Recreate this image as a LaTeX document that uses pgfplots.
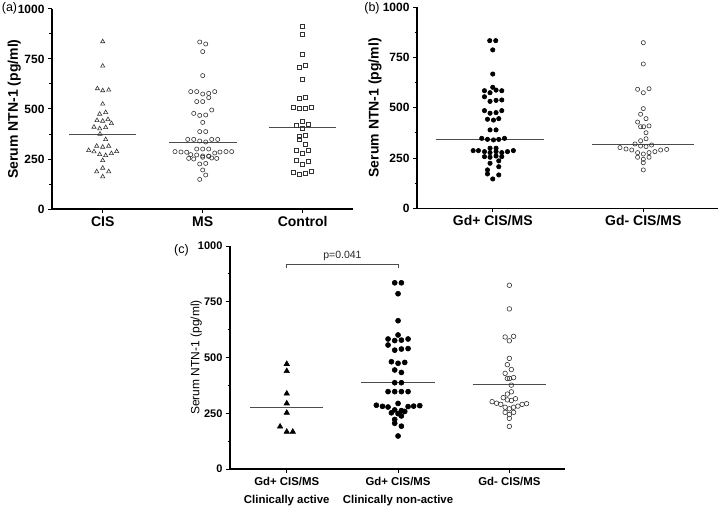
\documentclass[border=0pt]{standalone}
\usepackage{fontspec}
\setmainfont{Liberation Sans}
\usepackage{pgfplots}
\usepackage{pgfplotstable}
\pgfplotsset{compat=1.18}

\pgfplotstableread{
dx v
0 837
0 715
-0.053 602
0 592
0.06 595
0 525
-0.03 475
0.03 483
-0.057 443
0 440
0.053 448
0.087 428
-0.087 410
-0.03 402
0.03 408
-0.027 375
0.03 348
-0.06 315
0 310
0.06 315
-0.14 293
-0.087 287
-0.03 273
0.03 268
0.087 278
0.14 288
0 243
-0.06 187
0 205
0.06 187
0 162
}\tabCIS

\pgfplotstableread{
dx v
-0.03 835
0.03 825
0 787
0 667
-0.12 587
-0.06 587
0 575
0.06 578
0.12 587
0.06 557
-0.06 537
0 537
0.09 495
-0.09 478
-0.03 468
0.03 470
0 433
-0.03 387
0.03 387
-0.15 348
-0.09 348
-0.03 340
0.03 335
0.09 348
0.15 348
-0.06 300
0 300
0.06 300
-0.277 287
-0.217 285
-0.16 284
-0.12 272
0.12 280
0.173 285
0.233 287
0.29 287
-0.06 270
0 265
0.06 265
-0.14 253
-0.09 250
0 259
0.06 263
0.09 255
0.14 253
-0.03 225
0.03 228
0 195
0.03 170
-0.03 148
}\tabMS

\pgfplotstableread{
dx v
0 912
0 873
0 775
-0.03 708
0.03 717
0 650
-0.03 552
0.03 557
-0.09 510
-0.03 502
0.03 502
0.087 507
0 440
0.06 423
-0.06 417
0 403
-0.03 362
-0.03 350
0.03 370
0.03 325
-0.06 295
0 278
0.06 293
-0.06 242
0 225
0.06 238
-0.09 183
-0.03 175
0.03 178
0.087 188
}\tabCtrl

\pgfplotstableread{
dx v
-0.02 834
0.02 834
0 788
0 668
0 602
-0.055 585
-0.018 575
0.022 588
0.06 585
-0.055 555
-0.018 532
0.022 537
0.06 539
-0.055 486
-0.018 473
0.022 476
0.06 486
-0.035 443
0.005 439
0.04 446
-0.018 390
0.022 390
-0.073 348
-0.035 343
0.005 340
0.04 343
0.078 348
-0.018 299
0.022 299
-0.13 287
-0.095 287
-0.055 282
-0.018 277
0.022 282
0.06 277
0.098 282
0.137 287
-0.055 257
-0.018 254
0.022 260
0.06 257
-0.018 224
0.04 236
-0.035 191
0.04 207
-0.035 171
0.04 166
0 146
}\tabGdPos

\pgfplotstableread{
dx v
0 824
0 718
-0.038 592
0 575
0.038 595
0 496
-0.018 468
0.018 446
-0.038 429
-0.018 406
0.002 406
0.038 410
0.018 376
0.018 346
-0.018 336
-0.055 320
-0.018 310
0.018 307
0.055 315
-0.155 302
-0.115 295
-0.077 290
-0.038 277
0 270
0.038 277
0.077 282
0.115 290
0.155 293
-0.038 254
0 244
0.038 254
0 227
0 191
}\tabGdNeg

\pgfplotstableread{
dx v
0 471
0 439
0 338
0 294
0 252
-0.06 190
0 167
0.054 167
}\tabActv

\pgfplotstableread{
dx v
-0.03 835
0.03 835
0 786
0 665
0 601
-0.09 583
-0.03 576
0.03 578
0.09 583
-0.09 556
-0.03 533
0.03 538
0.09 540
-0.06 481
0 474
0.06 478
-0.03 444
0.03 433
-0.03 387
0.03 387
-0.09 347
-0.03 347
0.03 347
0.09 347
0 294
-0.195 286
-0.14 281
-0.09 278
0.09 280
0.14 282
0.195 284
-0.03 265
0.03 262
-0.06 252
0 248
0.06 258
0.03 238
-0.03 222
-0.03 205
0.03 192
0 148
}\tabNonActv

\pgfplotsset{
  prism/.style={
    scale only axis,
    axis x line=bottom, axis y line=left,
    axis line style={-, line width=1.3pt},
    ymin=0, ymax=1000,
    ytick={0,250,500,750,1000},
    yticklabels={0,250,500,750,1000},
    minor ytick={125,375,625,875},
    tick align=outside,
    major tick length=4pt, minor tick length=2.5pt,
    every tick/.style={black, line width=1pt},
    /pgf/number format/assume math mode=true,
    /pgf/number format/1000 sep={},
    clip=false,
    ylabel={Serum NTN-1 (pg/ml)},
  },
  big/.style={
    yticklabel style={font=\fontsize{12}{12}\selectfont\bfseries},
    xticklabel style={font=\fontsize{14}{14}\selectfont\bfseries, yshift=0pt},
    ylabel style={font=\fontsize{14}{14}\selectfont\bfseries, anchor=center},
  },
  pts/.style={only marks, draw=black!80, line width=0.6pt},
  med/.style={no marks, line width=0.8pt, black!70},
}

\begin{document}
\begin{tikzpicture}
\path[use as bounding box] (0,0) rectangle (722pt,507pt);

% panel (a)
\begin{axis}[prism, big,
  at={(52pt,298pt)}, anchor=south west,
  width=301.3pt, height=200pt,
  xmin=0.493, xmax=3.506,
  xtick={1,2,3}, xticklabels={CIS,MS,Control},
  ylabel style={at={(axis description cs:-0.125,0.5)}},
]
\addplot[pts, mark=triangle, mark size=2.4pt] table[x expr=\thisrow{dx}+1, y=v] {\tabCIS};
\addplot[pts, mark=o, mark size=2.1pt] table[x expr=\thisrow{dx}+2, y=v] {\tabMS};
\addplot[pts, mark=square, mark size=2pt] table[x expr=\thisrow{dx}+3, y=v] {\tabCtrl};
\addplot[med] coordinates {(0.667,375) (1.333,375)};
\addplot[med] coordinates {(1.66,335) (2.34,335)};
\addplot[med] coordinates {(2.667,407) (3.333,407)};
\end{axis}

% panel (b)
\begin{axis}[prism, big,
  at={(417pt,298.7pt)}, anchor=south west,
  width=301.3pt, height=201pt,
  xmin=0.497, xmax=2.498,
  xtick={1,2}, xticklabels={Gd+ CIS/MS,Gd- CIS/MS},
  ylabel style={at={(axis description cs:-0.139,0.5)}},
]
\addplot[pts, mark=*, fill=black, draw=black, mark size=2.2pt] table[x expr=\thisrow{dx}+1, y=v] {\tabGdPos};
\addplot[pts, mark=o, mark size=2.1pt] table[x expr=\thisrow{dx}+2, y=v] {\tabGdNeg};
\addplot[med] coordinates {(0.62,344) (1.34,344)};
\addplot[med] coordinates {(1.66,318) (2.335,318)};
\end{axis}

% panel (c)
\begin{axis}[prism,
  at={(230pt,38pt)}, anchor=south west,
  width=335pt, height=223pt,
  xmin=0.49, xmax=3.5,
  xtick={1,2,3},
  xticklabels={{Gd+ CIS/MS\\Clinically active},{Gd+ CIS/MS\\Clinically non-active},{Gd- CIS/MS}},
  yticklabel style={font=\fontsize{11}{11}\selectfont\bfseries},
  xticklabel style={font=\fontsize{11.4}{18}\selectfont\bfseries, align=center, anchor=north, yshift=-1pt},
  ylabel style={font=\fontsize{12}{12}\selectfont, anchor=center, at={(axis description cs:-0.101,0.5)}},
]
\addplot[pts, mark=triangle*, fill=black, draw=black, mark size=3.1pt] table[x expr=\thisrow{dx}+1, y=v] {\tabActv};
\addplot[pts, mark=*, fill=black, draw=black, mark size=2.5pt] table[x expr=\thisrow{dx}+2, y=v] {\tabNonActv};
\addplot[pts, mark=o, mark size=2.3pt] table[x expr=\thisrow{dx}+3, y=v] {\tabGdNeg};
\addplot[med] coordinates {(0.67,275) (1.33,275)};
\addplot[med] coordinates {(1.667,387) (2.333,387)};
\addplot[med] coordinates {(2.67,381) (3.33,381)};
\addplot[no marks, line width=0.6pt, black!70] coordinates {(1,900) (1,917) (2,917) (2,900)};
\node[font=\fontsize{10.5}{10.5}\selectfont, black!85] at (axis cs:1.5,955) {p=0.041};
\end{axis}

\node[font=\fontsize{12.5}{12.5}\selectfont] at (9.5pt,499pt) {(a)};
\node[font=\fontsize{12.5}{12.5}\selectfont] at (372pt,499pt) {(b)};
\node[font=\fontsize{12.5}{12.5}\selectfont] at (181.5pt,257pt) {(c)};
\end{tikzpicture}
\end{document}
